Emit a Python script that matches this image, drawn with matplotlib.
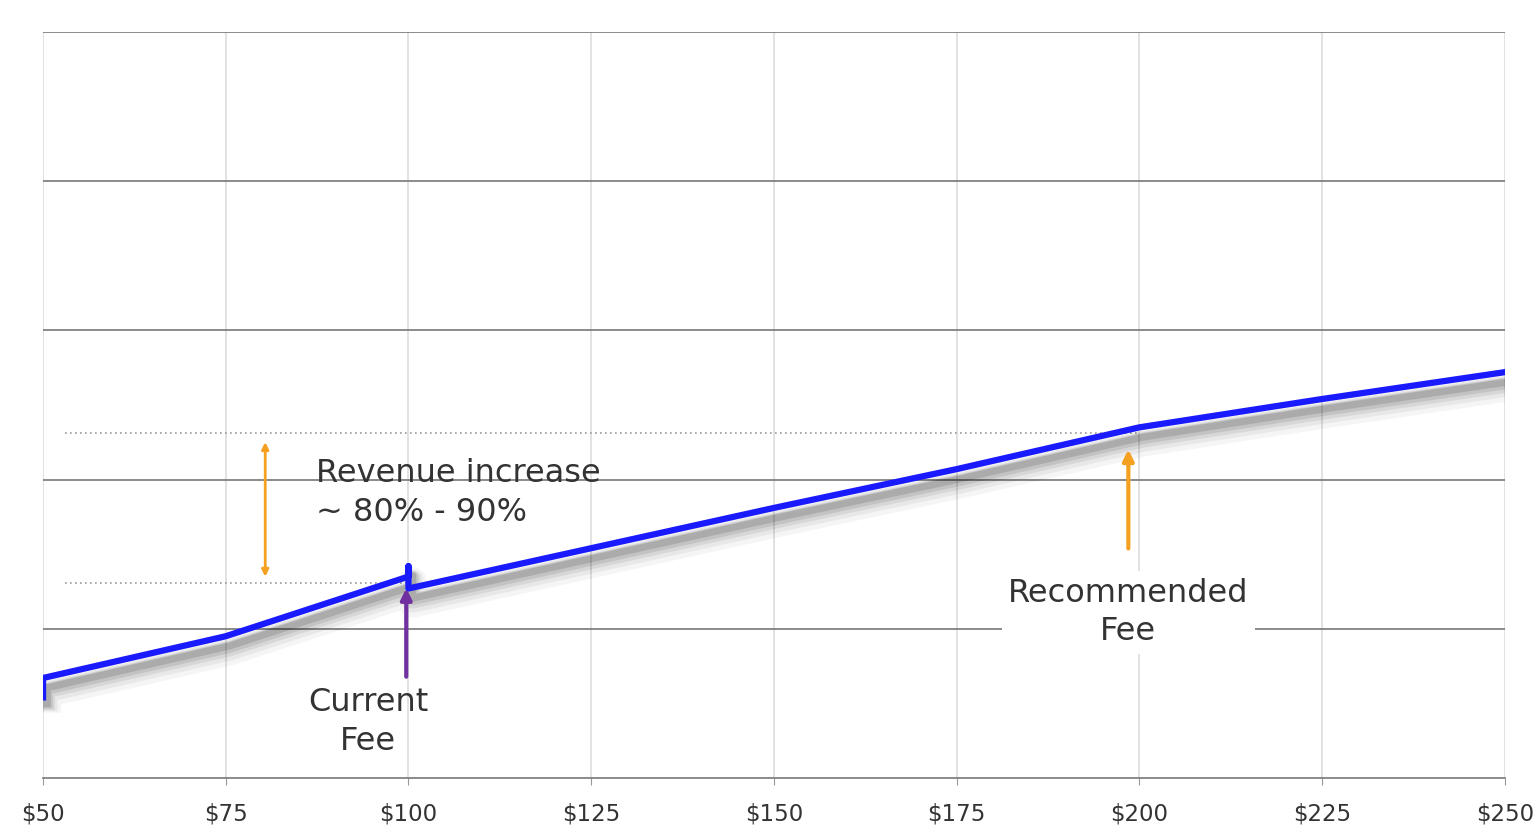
import matplotlib.pyplot as plt
import matplotlib.transforms as mtransforms

plt.rcParams['font.family'] = ['DejaVu Sans']

# fee levels and relative revenue (no y scale shown in the original)
fees = [50, 50, 75, 100, 100, 100, 125, 150, 175, 200, 225, 250]
revenue = [0.54, 0.67, 0.95, 1.35, 1.42, 1.27, 1.54, 1.81, 2.07, 2.35, 2.54, 2.72]
tick_fees = [50, 75, 100, 125, 150, 175, 200, 225, 250]
tick_labels = ['$50', '$75', '$100', '$125', '$150', '$175', '$200', '$225', '$250']
current_level = 1.31
recommended_level = 2.31

fig = plt.figure(figsize=(15.37, 8.27), dpi=100)
ax = fig.add_axes([0.028, 0.0593, 0.951, 0.902])
ax.set_xlim(50, 250)
ax.set_ylim(0, 5)

# grid
for f in tick_fees:
    ax.axvline(f, color='#dddddd', lw=1.2, zorder=0)
for y in range(1, 6):
    ax.axhline(y, color='#777777', lw=1.2, zorder=0)
for s in ['top', 'right', 'left']:
    ax.spines[s].set_visible(False)
ax.spines['bottom'].set_color('#777777')
ax.spines['bottom'].set_linewidth(1.2)
ax.set_yticks([])
ax.set_xticks(tick_fees)
ax.set_xticklabels(tick_labels, fontsize=16.5, color='#333333')
ax.tick_params(axis='x', length=5, color='#999999', pad=13)

# blurred shadow made of stacked offset lines
for off, a, w in [(11, 0.04, 20), (10, 0.05, 15), (9, 0.07, 11), (8, 0.09, 8), (7, 0.12, 5)]:
    shift = mtransforms.ScaledTranslation(3 / 72, -off / 72, fig.dpi_scale_trans)
    ax.plot(fees, revenue, color='black', lw=w, alpha=a, solid_capstyle='butt',
            transform=ax.transData + shift, zorder=2)
ax.plot(fees, revenue, color='#1a1aff', lw=4.5, solid_joinstyle='round', zorder=3)

# dotted reference levels
ax.plot([53, 100], [current_level, current_level], ls=(0, (1, 2)), color='#999999', lw=1.2, zorder=1)
ax.plot([53, 200], [recommended_level, recommended_level], ls=(0, (1, 2)), color='#999999', lw=1.2, zorder=1)

orange = '#f5a020'
ax.annotate('', xy=(80.4, 2.27), xytext=(80.4, 1.33),
            arrowprops=dict(arrowstyle='<|-|>', color=orange, lw=2, mutation_scale=10))
ax.text(87.4, 1.91, 'Revenue increase\n~ 80% - 90%', fontsize=23, color='#333333',
        va='center', ha='left', linespacing=1.32)

ax.annotate('', xy=(99.7, 1.29), xytext=(99.7, 0.66),
            arrowprops=dict(arrowstyle='-|>', color='#7030a0', lw=3, mutation_scale=16))
ax.text(94.5, 0.375, 'Current\nFee', fontsize=23, color='#333333', ha='center', va='center',
        linespacing=1.32)

ax.annotate('', xy=(198.5, 2.22), xytext=(198.5, 1.52),
            arrowprops=dict(arrowstyle='-|>', color=orange, lw=3, mutation_scale=16))
ax.text(198.5, 1.11, 'Recommended\nFee', fontsize=23, color='#333333', ha='center', va='center',
        linespacing=1.32, bbox=dict(boxstyle='square,pad=0.2', fc='white', ec='none'))

fig.savefig('out.png', dpi=100)
